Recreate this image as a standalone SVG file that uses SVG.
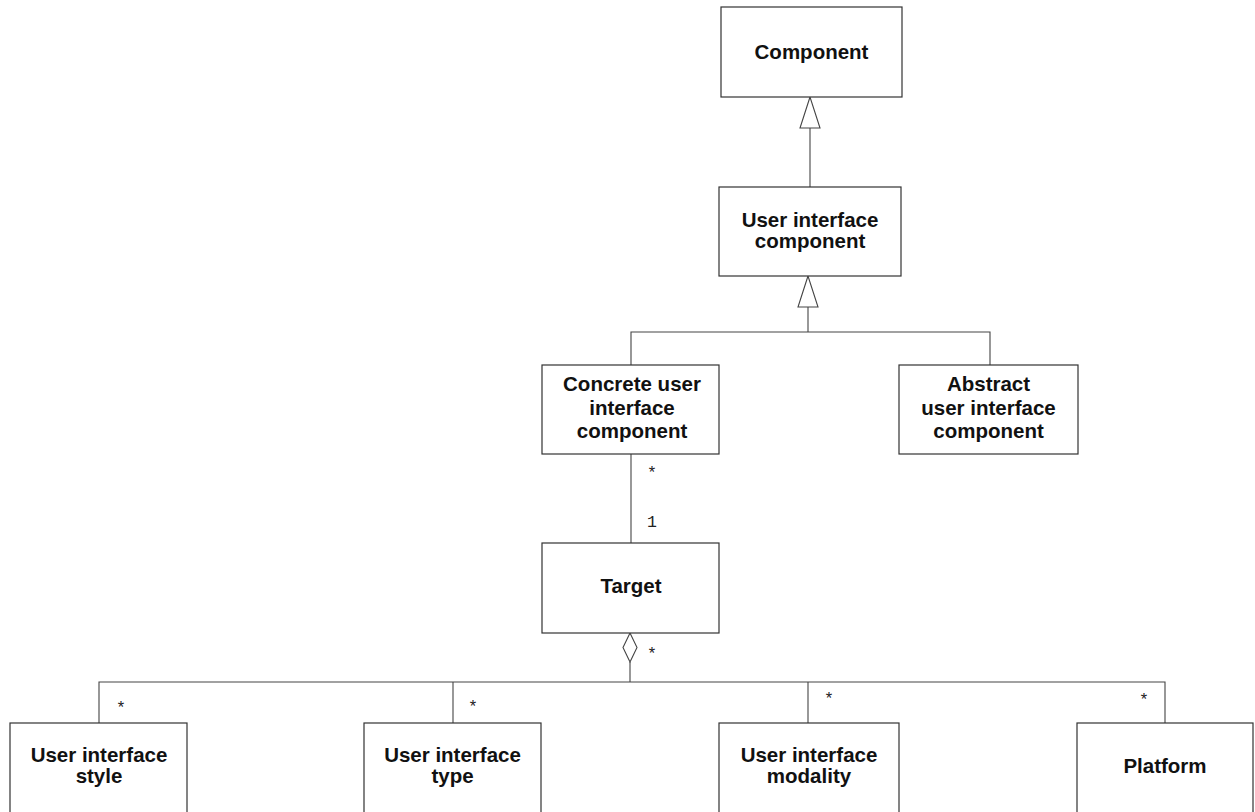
<svg xmlns="http://www.w3.org/2000/svg" width="1255" height="812" viewBox="0 0 1255 812">
<style>
.box{fill:#fff;stroke:#333;stroke-width:1.2}
.lbl{font-family:"Liberation Sans",Arial,sans-serif;font-weight:bold;font-size:20.5px;fill:#111;text-anchor:middle}
.mult{font-family:"Liberation Mono","Courier New",monospace;font-size:16.5px;fill:#222;text-anchor:middle}
.ln{fill:none;stroke:#444;stroke-width:1.1}
.gen{fill:#fff;stroke:#444;stroke-width:1.1}
</style>
<rect width="1255" height="812" fill="#fff"/>
<g id="connectors">
<line class="ln" x1="810" y1="128" x2="810" y2="187"/>
<polygon class="gen" points="810,97 800,128 820,128"/>
<polyline class="ln" points="808,307 808,332"/>
<polyline class="ln" points="631,365 631,332 990,332 990,365"/>
<polygon class="gen" points="808,276 798,307 818,307"/>
<line class="ln" x1="631" y1="454" x2="631" y2="543"/>
<text class="mult" x="652" y="478">*</text>
<text class="mult" x="652" y="527">1</text>
<polygon class="gen" points="630,633 637,647.5 630,662 623,647.5"/>
<line class="ln" x1="630" y1="662" x2="630" y2="682"/>
<text class="mult" x="652" y="659">*</text>
<polyline class="ln" points="99,723 99,682 1165,682 1165,723"/>
<line class="ln" x1="453" y1="682" x2="453" y2="723"/>
<line class="ln" x1="808" y1="682" x2="808" y2="723"/>
<text class="mult" x="121" y="713">*</text>
<text class="mult" x="473" y="712">*</text>
<text class="mult" x="829" y="704">*</text>
<text class="mult" x="1144" y="705">*</text>
</g>
<g id="component">
<rect class="box" x="721" y="7" width="181" height="90"/>
<text class="lbl" x="811.5" y="59">Component</text>
</g>
<g id="ui-component">
<rect class="box" x="719" y="187" width="182" height="89"/>
<text class="lbl" x="810" y="227">User interface</text>
<text class="lbl" x="810" y="248">component</text>
</g>
<g id="concrete">
<rect class="box" x="542" y="365" width="177" height="89"/>
<text class="lbl" x="632" y="391">Concrete user</text>
<text class="lbl" x="632" y="415">interface</text>
<text class="lbl" x="632" y="438">component</text>
</g>
<g id="abstract">
<rect class="box" x="899" y="365" width="179" height="89"/>
<text class="lbl" x="988.5" y="391">Abstract</text>
<text class="lbl" x="988.5" y="415">user interface</text>
<text class="lbl" x="988.5" y="438">component</text>
</g>
<g id="target">
<rect class="box" x="542" y="543" width="177" height="90"/>
<text class="lbl" x="631" y="593">Target</text>
</g>
<g id="style">
<rect class="box" x="10" y="723" width="177" height="92"/>
<text class="lbl" x="99" y="762">User interface</text>
<text class="lbl" x="99" y="783">style</text>
</g>
<g id="type">
<rect class="box" x="364" y="723" width="177" height="92"/>
<text class="lbl" x="452.5" y="762">User interface</text>
<text class="lbl" x="452.5" y="783">type</text>
</g>
<g id="modality">
<rect class="box" x="719" y="723" width="180" height="92"/>
<text class="lbl" x="809" y="762">User interface</text>
<text class="lbl" x="809" y="783">modality</text>
</g>
<g id="platform">
<rect class="box" x="1077" y="723" width="176" height="92"/>
<text class="lbl" x="1165" y="773">Platform</text>
</g>
</svg>
